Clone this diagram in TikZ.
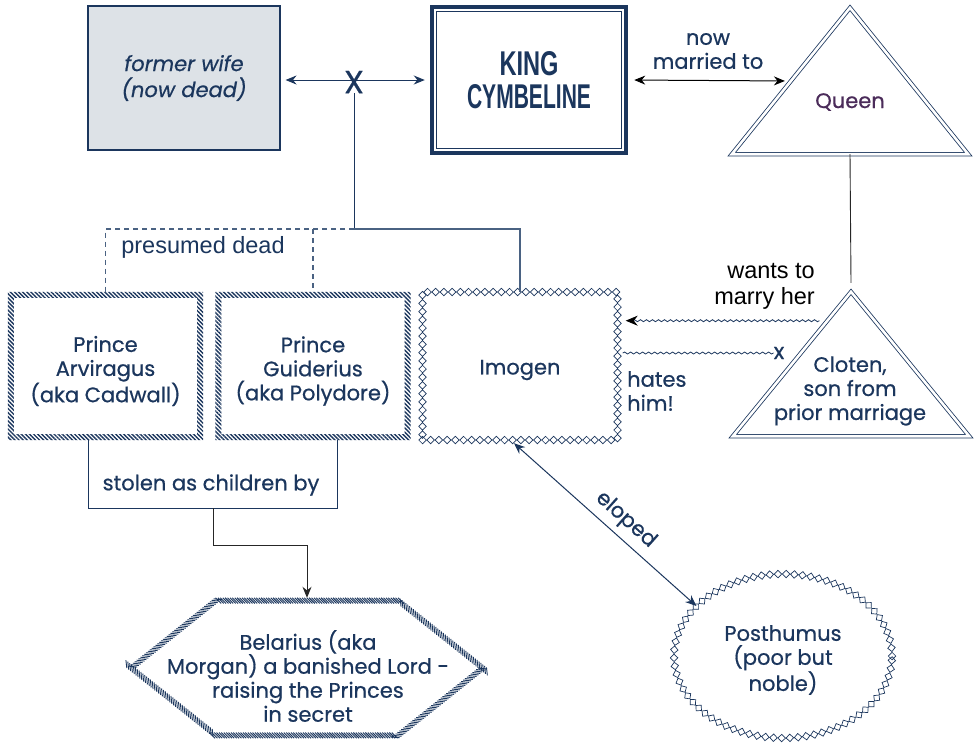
\documentclass[tikz,border=0pt]{standalone}
\usepackage{fontspec}
\setmainfont{Poppins}[FakeBold=0.6]
\newfontfamily\arialf{Liberation Sans}
\usetikzlibrary{arrows.meta,patterns.meta,decorations.pathmorphing,decorations.pathreplacing,decorations.shapes,shapes.geometric,calc}
\definecolor{navy}{HTML}{1B365D}
\definecolor{linec}{HTML}{4A6282}
\definecolor{wifefill}{HTML}{DDE2E7}
\definecolor{queenc}{HTML}{4B2C5A}
\begin{document}
\begin{tikzpicture}[x=1pt,y=-1pt,
  txt/.style={text=navy, align=center, inner sep=0pt, font=\fontsize{21}{24}\selectfont},
  atxt/.style={text=black, inner sep=0pt, font=\arialf\fontsize{23.5}{26}\selectfont},
  hatchpath/.style={postaction={draw=navy, line width=.9pt, decorate,
      decoration={border, segment length=2.4pt, amplitude=8pt, angle=135}}},
  hatchfill/.style={pattern={Lines[angle=-45,distance=2.9pt,line width=1.4pt]}, pattern color=navy, even odd rule},
  diamonds/.style={postaction={draw=navy, fill=white, line width=.7pt, decorate,
      decoration={shape backgrounds, shape=diamond, shape size=7.5pt, shape sep={8.2pt, between centers}}}},
  dbl/.style={draw=navy, line width=.8pt, double=white, double distance=2.6pt, line join=miter},
  arr/.style={-{Stealth[length=11pt,width=9pt]}},
  wavy/.style={decorate, decoration={snake, segment length=6pt, amplitude=1pt, post length=9pt}},
  wavyx/.style={decorate, decoration={snake, segment length=6pt, amplitude=1pt}},
  box/.style={minimum width=195, minimum height=148}
]
\path[use as bounding box, fill=white] (0,0) rectangle (976,745);

% former wife
\node[txt, font=\fontsize{21}{26}\selectfont\itshape, fill=wifefill, draw=navy, line width=1.1pt,
      minimum width=192, minimum height=144] (fw) at (184,78) {former wife\\(now dead)};

% King
\node[txt, draw=navy, line width=4.5pt, minimum width=194, minimum height=146,
      font=\arialf\bfseries\fontsize{24}{33}\selectfont] (king) at (529,80)
      {\resizebox{59pt}{24pt}{KING}\\\resizebox{124pt}{24pt}{CYMBELINE}};
\draw[navy, line width=1.3pt] ([shift={(7,7)}]king.north west) rectangle ([shift={(-7,-7)}]king.south east);

% X marker and arrow
\draw[navy, line width=1pt, {Stealth[length=11pt,width=9pt]}-{Stealth[length=11pt,width=9pt]},
      shorten <=5pt, shorten >=5pt] (fw.east |- king.west) -- (king.west);
\node[text=navy, inner sep=0pt, font=\fontsize{32}{32}\selectfont] (xm) at (354,82) {X};
\coordinate (jn) at (354,229);
\draw[navy, line width=1pt] (xm.south) -- (jn);

% Queen
\node[minimum width=236, minimum height=146] (queen) at (850,81) {};
\draw[dbl] (queen.north) -- (queen.south east) -- (queen.south west) -- cycle;
\node[txt, text=queenc] (queentext) at (850,102) {Queen};
\path (queen.north) -- (queen.south west) coordinate[pos=.5] (qleft);
\draw[black, line width=1pt, {Stealth[length=11pt,width=9pt]}-{Stealth[length=11pt,width=9pt]},
      shorten <=6pt, shorten >=6pt] (king.east) -- (qleft);
\node[txt] (married) at (708,51) {now\\married to};

% Cloten
\node[minimum width=236, minimum height=144] (cloten) at (851,364) {};
\draw[dbl] (cloten.north) -- (cloten.south east) -- (cloten.south west) -- cycle;
\node[txt] (clotentext) at (850,391) {Cloten,\\son from\\prior marriage};
\draw[black!85, line width=.9pt] (queen.south) -- ([yshift=9pt]cloten.north);

% children
\node[box] (pa) at (105.5,366) {};
\node[box] (pg) at (313,366) {};
\node[box, diamonds] (im) at (520,366) {};
\fill[hatchfill] (pa.north west) rectangle (pa.south east) ([shift={(6,6)}]pa.north west) rectangle ([shift={(-6,-6)}]pa.south east);
\fill[hatchfill] (pg.north west) rectangle (pg.south east) ([shift={(6,6)}]pg.north west) rectangle ([shift={(-6,-6)}]pg.south east);
\node[txt] (patext) at (105.5,371) {Prince\\Arviragus\\(aka Cadwall)};
\node[txt] (pgtext) at (313,371) {Prince\\Guiderius\\(aka Polydore)};
\node[txt] (imtext) at (520,370) {Imogen};

\draw[linec, line width=1.2pt] (jn) -| (im.north);
\draw[linec, line width=1.2pt, dash pattern=on 5pt off 4pt] (jn) -| (pa.north);
\draw[linec, line width=1.2pt, dash pattern=on 5pt off 4pt] (pg.north |- jn) -- (pg.north);
\node[atxt, text=navy] (presumed) at (203,247) {presumed dead};

% stolen
\node[minimum width=248, minimum height=68] (stolenframe) at (213,474) {};
\draw[navy, line width=1pt] (stolenframe.north west) -- (stolenframe.south west) -- (stolenframe.south east) -- (stolenframe.north east);
\node[txt] (stolen) at (211,485) {stolen as children by};

% Belarius
\node[minimum width=360, minimum height=140] (bel) at (307,668) {};
\path[hatchpath] (bel.west) -- ([xshift=88pt]bel.south west) -- ([xshift=-88pt]bel.south east) -- (bel.east)
   -- ([xshift=-88pt]bel.north east) -- ([xshift=88pt]bel.north west) -- cycle;
\node[txt] (beltext) at (308,676) {Belarius (aka\\Morgan) a banished Lord -\\raising the Princes\\in secret};
\draw[black!85, line width=1pt, arr] (stolenframe.south) -- ++(0,37) -| (bel.north);

% Posthumus
\node[ellipse, minimum width=218, minimum height=164, diamonds] (post) at (783,656) {};
\node[txt] (posttext) at (783,660) {Posthumus\\(poor but\\noble)};
\draw[navy, line width=1pt, {Stealth[length=11pt,width=9pt]}-{Stealth[length=11pt,width=9pt]}]
   ([xshift=-6pt,yshift=-3pt]im.south) -- (post.150) node[txt, sloped, above=6pt, pos=.55] (eloped) {eloped};

% wants to marry / hates
\path (cloten.north) -- (cloten.south west) coordinate[pos=.2] (cl1);
\draw[navy, line width=.8pt, wavy, -{Stealth[length=12pt,width=10pt,black]}, shorten >=8pt] ([xshift=-8pt]cl1) -- (im.east |- cl1);
\node[atxt, anchor=east, align=right] (wants) at (815,286) {wants to\\marry her};
\node[text=navy, inner sep=0pt, font=\fontsize{22}{22}\selectfont] (hx) at (779,353) {x};
\draw[navy, line width=.8pt, wavyx] ([xshift=5pt]im.east |- hx) -- (hx.west);
\node[txt, anchor=west, align=left] (hates) at (627,391) {hates\\him!};
\end{tikzpicture}
\end{document}
